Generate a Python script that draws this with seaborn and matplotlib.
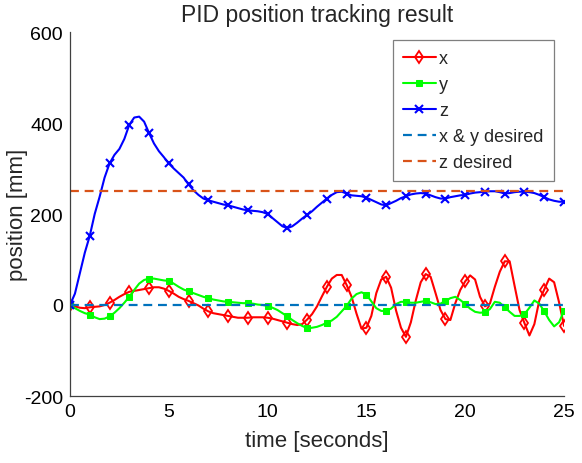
import numpy as np
import pandas as pd
import matplotlib
matplotlib.use("Agg")
import matplotlib.pyplot as plt
import seaborn as sns

time_s = np.arange(0, 25.0001, 0.25)

x_pos = [0, -3, -6, -7, -5, -4, -3, 0, 5, 11, 18, 24, 29, 31, 33, 35, 37, 39, 39, 36,
         31, 25, 18, 13, 9, 4, -1, -8, -14, -18, -20, -22, -24, -26, -28, -28, -28, -27, -27, -27,
         -28, -30, -33, -36, -39, -42, -44, -42, -32, -20, -3, 19, 40, 58, 66, 66, 44, 18, -19, -52,
         -50, -24, 26, 56, 62, 38, -12, -50, -70, -38, 10, 50, 68, 62, 26, -11, -31, -33, 4, 33,
         52, 65, 56, 18, -3, 3, 40, 73, 96, 96, 42, -11, -40, -67, -42, 10, 34, 58, 50, 6,
         -46]

y_pos = [0, -7, -13, -18, -21, -27, -31, -30, -25, -17, -7, 5, 18, 33, 47, 55, 58, 58, 56, 54,
         53, 47, 40, 34, 30, 26, 22, 18, 15, 12, 10, 8, 7, 6, 5, 4, 4, 3, 1, 0,
         -2, -6, -11, -18, -25, -33, -40, -46, -51, -50, -48, -44, -39, -34, -26, -14, -2, 14, 24, 28,
         23, 8, -7, -13, -13, -8, 2, 7, 7, 5, 5, 7, 9, 6, 2, 3, 9, 15, 18, 11,
         2, -8, -15, -17, -16, -9, 7, 5, -5, -15, -24, -24, -20, -6, 10, 3, -14, -33, -47, -38,
         -13]

z_pos = [0, 25, 70, 115, 152, 200, 238, 280, 311, 330, 343, 365, 396, 412, 414, 403, 378, 355, 338, 325,
         311, 300, 290, 280, 265, 252, 242, 234, 230, 227, 224, 221, 219, 216, 213, 210, 208, 207, 206, 204,
         200, 191, 182, 173, 169, 173, 181, 190, 198, 206, 216, 225, 234, 242, 248, 249, 245, 241, 240, 239,
         236, 231, 226, 221, 219, 224, 229, 235, 239, 243, 245, 246, 245, 241, 237, 234, 234, 237, 239, 241,
         242, 245, 247, 248, 249, 250, 250, 248, 245, 246, 248, 249, 249, 248, 246, 242, 237, 232, 229, 227,
         227]

xy_desired = 0
z_desired = 250

series_labels = ["x", "y", "z", "x & y desired", "z desired"]
x_ticks = [0, 5, 10, 15, 20, 25]
y_ticks = [-200, 0, 200, 400, 600]

title_text = "PID position tracking result"
xlabel_text = "time [seconds]"
ylabel_text = "position [mm]"

# ---- plotting ----
sns.set_style("white")
plt.rcParams["font.family"] = ["Liberation Sans", "DejaVu Sans"]
plt.rcParams["axes.unicode_minus"] = False

W, H = 582, 464
fig = plt.figure(figsize=(W / 100, H / 100), dpi=100)
ax = fig.add_axes([70 / W, 1 - 397 / H, (564 - 70) / W, (397 - 33) / H])

df = pd.DataFrame({"t": time_s, "x": x_pos, "y": y_pos, "z": z_pos,
                   "xyd": np.full(len(time_s), xy_desired),
                   "zd": np.full(len(time_s), z_desired)})

lw = 1.5
sns.lineplot(data=df, x="t", y="x", ax=ax, color=(1, 0, 0), lw=lw, marker="d",
             markersize=6, markerfacecolor="none", markeredgecolor=(1, 0, 0),
             markeredgewidth=1.3, markevery=4, label=series_labels[0])
sns.lineplot(data=df, x="t", y="y", ax=ax, color=(0, 1, 0), lw=lw, marker="s",
             markersize=4.5, markerfacecolor=(0, 1, 0), markeredgecolor=(0, 1, 0),
             markevery=4, label=series_labels[1])
sns.lineplot(data=df, x="t", y="z", ax=ax, color=(0, 0, 1), lw=lw, marker="x",
             markersize=5.5, markeredgewidth=1.5, markeredgecolor=(0, 0, 1),
             markevery=4, label=series_labels[2])
sns.lineplot(data=df, x="t", y="xyd", ax=ax, color=(0, 0.447, 0.741), lw=1.6,
             dashes=False, label=series_labels[3])
sns.lineplot(data=df, x="t", y="zd", ax=ax, color=(0.85, 0.325, 0.098), lw=1.6,
             dashes=False, label=series_labels[4])
for ln in ax.get_lines()[3:5]:
    ln.set_linestyle((0, (4, 2.6)))

ax.set_xlim(0, 25)
ax.set_ylim(-200, 600)
ax.set_xticks(x_ticks)
ax.set_yticks(y_ticks)
ax.tick_params(direction="in", length=4, width=0.8, colors="#262626",
               labelsize=14, labelcolor="black", pad=5)
for side in ["top", "right"]:
    ax.spines[side].set_visible(False)
for side in ["left", "bottom"]:
    ax.spines[side].set_color("#404040")
    ax.spines[side].set_linewidth(0.9)

ax.set_title(title_text, fontsize=16.5, pad=8)
ax.set_xlabel(xlabel_text, fontsize=16, labelpad=7)
ax.set_ylabel(ylabel_text, fontsize=16)
ax.yaxis.set_label_coords((28 - 70) / 494, 0.5)

leg = ax.legend(loc="upper right", bbox_to_anchor=(553.5 / W, 1 - 41 / H),
                bbox_transform=fig.transFigure,
                fontsize=13, frameon=True, fancybox=False, handlelength=1.8,
                handletextpad=0.2, labelspacing=0.5, borderpad=0.55,
                borderaxespad=0)
leg.get_frame().set_edgecolor("#7f7f7f")
leg.get_frame().set_linewidth(0.9)
leg.get_frame().set_alpha(1)

fig.savefig("out.png", dpi=100)
